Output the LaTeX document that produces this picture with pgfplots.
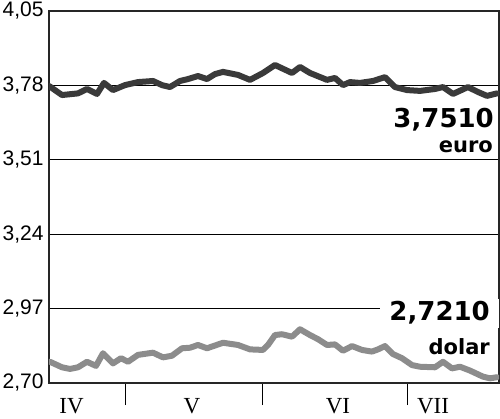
\documentclass[border=0pt]{standalone}
\usepackage{fontspec}
\setmainfont{Liberation Sans}
\newfontfamily\serif{Liberation Serif}
\newfontfamily\heavy{DejaVu Sans}
\usepackage{pgfplots}
\pgfplotsset{compat=1.18}
\definecolor{euroc}{HTML}{3A3A3A}
\definecolor{usdc}{HTML}{8C8C8C}
\tikzset{month/.style={anchor=base,inner sep=0pt,yshift=-31pt,font=\serif\fontsize{23}{23}\selectfont}}
\begin{document}
\begin{tikzpicture}
\useasboundingbox (-49pt,-36pt) rectangle (451pt,383pt);
\begin{axis}[scale only axis,width=450pt,height=372pt,clip mode=individual,
 xmin=49,xmax=499,ymin=2.70,ymax=4.05,
 ytick={2.70,2.97,3.24,3.51,3.78,4.05},
 xtick={125,262,407},xticklabels={},
 xtick pos=bottom,tick align=outside,
 x tick style={line width=1pt,black},major tick length=22pt,
 y tick style={draw=none},
 ymajorgrids,grid style={line width=0.9pt,black},
 axis line style={line width=1.2pt,black!85},
 yticklabel style={font=\fontsize{21}{21}\selectfont,xshift=20pt},
 /pgf/number format/.cd,use comma,fixed,fixed zerofill,precision=2,assume math mode=true]
\addplot[euroc,line width=6pt,line join=round,line cap=round] coordinates {
(49,3.778)(62,3.745)(78,3.751)(87,3.767)(97,3.749)(104,3.789)(113,3.763)(125,3.781)
(138,3.792)(153,3.796)(162,3.781)(170,3.774)(180,3.796)(188,3.803)(198,3.814)(207,3.803)
(215,3.821)(223,3.829)(238,3.818)(250,3.800)(263,3.825)(275,3.854)(292,3.825)(300,3.847)
(310,3.825)(327,3.800)(335,3.807)(343,3.781)(350,3.792)(360,3.789)(373,3.796)(385,3.810)
(395,3.774)(407,3.763)(420,3.760)(435,3.767)(443,3.774)(453,3.749)(468,3.774)(478,3.756)
(487,3.742)(497,3.751)};
\addplot[usdc,line width=6pt,line join=round,line cap=round] coordinates {
(50,2.777)(62,2.757)(70,2.751)(78,2.757)(87,2.777)(96,2.762)(103,2.808)(113,2.771)
(121,2.790)(128,2.777)(138,2.802)(153,2.810)(163,2.793)(172,2.799)(182,2.826)(190,2.828)
(198,2.838)(207,2.826)(223,2.846)(238,2.838)(250,2.822)(263,2.820)(268,2.838)(275,2.874)
(282,2.877)(292,2.868)(300,2.895)(310,2.874)(318,2.859)(327,2.838)(335,2.840)(343,2.817)
(352,2.834)(362,2.820)(372,2.814)(378,2.822)(385,2.834)(393,2.805)(402,2.790)(412,2.765)
(420,2.759)(435,2.757)(443,2.777)(452,2.753)(460,2.759)(470,2.745)(483,2.723)(490,2.717)
(497,2.721)};
\node[anchor=base east,inner sep=0pt,font=\heavy\bfseries\fontsize{26}{26}\selectfont] at (axis cs:494,3.629) {3,7510};
\node[anchor=base east,inner sep=0pt,font=\heavy\bfseries\fontsize{21}{21}\selectfont] at (axis cs:493,3.538) {euro};
\node[anchor=base east,fill=white,inner xsep=9pt,inner ysep=3pt,font=\heavy\bfseries\fontsize{26}{26}\selectfont] at (axis cs:499,2.925) {2,7210};
\node[anchor=base east,inner sep=0pt,font=\heavy\bfseries\fontsize{21}{21}\selectfont] at (axis cs:490,2.805) {dolar};
\node[month] at (axis cs:71.5,2.70) {IV};
\node[month] at (axis cs:192,2.70) {V};
\node[month] at (axis cs:338,2.70) {VI};
\node[month] at (axis cs:433,2.70) {VII};
\end{axis}
\end{tikzpicture}
\end{document}
